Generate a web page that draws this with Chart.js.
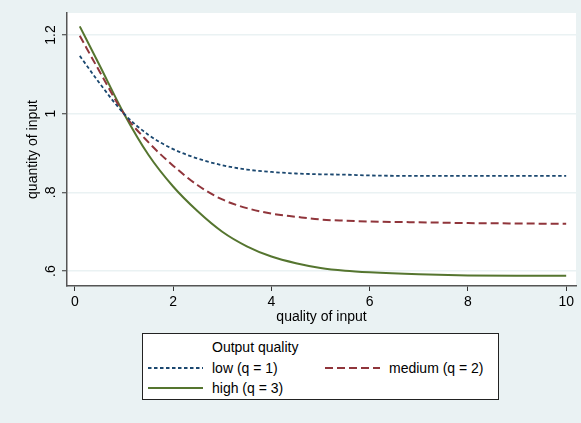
<!DOCTYPE html>
<html lang="en">
<head>
  <meta charset="UTF-8">
  <title>Quantity of input by quality of input</title>
  <script src="https://cdn.jsdelivr.net/npm/chart.js"></script>
  <style>
    html, body { margin: 0; padding: 0; background: #eaf2f3; }
    #wrap { position: relative; width: 581px; height: 423px; font-family: "Liberation Sans", Arial, sans-serif; }
    #legend { position: absolute; left: 142px; top: 333px; width: 355px; height: 65px;
              background: #fff; border: 1px solid #222; font-size: 14px; color: #000; }
    .item { position: absolute; height: 18px; line-height: 18px; white-space: nowrap; }
    .item svg { position: absolute; top: 0; }
  </style>
</head>
<body>
  <div id="wrap">
    <canvas id="chart" width="581" height="423"></canvas>
    <div id="legend"></div>
  </div>

  <script>
    // values
    const xValues = [0.1, 0.5, 1, 1.5, 2, 2.5, 3, 3.5, 4, 4.5, 5, 5.5, 6, 7, 8, 9, 10];
    const lowQ    = [1.147, 1.078, 1.0, 0.946, 0.910, 0.886, 0.869, 0.858, 0.852, 0.848, 0.846, 0.845, 0.843, 0.842, 0.842, 0.842, 0.842];
    const mediumQ = [1.198, 1.108, 1.0, 0.927, 0.868, 0.818, 0.782, 0.760, 0.746, 0.738, 0.731, 0.728, 0.726, 0.724, 0.722, 0.721, 0.720];
    const highQ   = [1.222, 1.124, 1.0, 0.895, 0.815, 0.752, 0.700, 0.663, 0.637, 0.620, 0.608, 0.601, 0.597, 0.592, 0.589, 0.588, 0.588];
    const xTicks = [0, 2, 4, 6, 8, 10];
    const yTicks = [0.6, 0.8, 1, 1.2];
    const seriesLabels = ['low (q = 1)', 'medium (q = 2)', 'high (q = 3)'];
    const legendTitle = 'Output quality';

    const colors = ['#1a476f', '#90353b', '#55752f'];
    const dashes = [[3.5, 2.5], [8, 4], []];
    const widths = [1.8, 2, 2];

    const toPoints = ys => xValues.map((x, i) => ({ x: x, y: ys[i] }));

    // white plot region, Stata style
    const plotBg = {
      id: 'plotBg',
      beforeDraw(chart) {
        const { ctx, chartArea: a } = chart;
        ctx.save();
        ctx.fillStyle = '#ffffff';
        ctx.fillRect(a.left, a.top, a.right - a.left, a.bottom - a.top);
        ctx.restore();
      }
    };

    const fmtY = v => v === 1 ? '1' : String(v).replace(/^0\./, '.');

    new Chart(document.getElementById('chart'), {
      type: 'line',
      data: {
        datasets: [lowQ, mediumQ, highQ].map((ys, i) => ({
          label: seriesLabels[i],
          data: toPoints(ys),
          borderColor: colors[i],
          borderDash: dashes[i],
          borderWidth: widths[i],
          pointRadius: 0,
          fill: false,
          cubicInterpolationMode: 'monotone'
        }))
      },
      options: {
        responsive: false,
        animation: false,
        devicePixelRatio: 1,
        layout: { padding: { left: 0, top: 13, right: 5, bottom: 92 } },
        plugins: { legend: { display: false }, tooltip: { enabled: false } },
        scales: {
          x: {
            type: 'linear',
            min: -0.16,
            max: 10.2,
            afterBuildTicks: s => { s.ticks = xTicks.map(v => ({ value: v })); },
            afterFit: s => { s.height = 45; },
            ticks: { color: '#000', padding: 3, font: { family: 'Liberation Sans', size: 14 }, callback: v => String(v) },
            grid: { drawOnChartArea: false, drawTicks: true, tickLength: 5, tickColor: '#333', tickWidth: 1 },
            border: { display: true, color: '#555', width: 1.5 },
            title: { display: true, text: 'quality of input', color: '#000',
                     font: { family: 'Liberation Sans', size: 14 }, padding: { top: 0, bottom: 5 } }
          },
          y: {
            type: 'linear',
            min: 0.562,
            max: 1.256,
            afterBuildTicks: s => { s.ticks = yTicks.map(v => ({ value: v })); },
            afterFit: s => { s.width = 67; },
            ticks: { color: '#000', padding: 1, minRotation: 90, maxRotation: 90, crossAlign: 'center',
                     font: { family: 'Liberation Sans', size: 14 }, callback: v => fmtY(v) },
            grid: { color: '#eaf2f3', lineWidth: 1.5, drawTicks: true, tickLength: 5, tickColor: '#333', tickWidth: 1 },
            border: { display: true, color: '#555', width: 1.5 },
            title: { display: true, text: 'quantity of input', color: '#000',
                     font: { family: 'Liberation Sans', size: 14 }, padding: { top: 25, bottom: 0 } }
          }
        }
      },
      plugins: [plotBg]
    });

    // legend box: title on top, two columns below
    const legend = document.getElementById('legend');
    const slots = [{ left: 5, top: 25 }, { left: 182, top: 25 }, { left: 5, top: 45 }];
    const addText = (text, left, top) => {
      const d = document.createElement('div');
      d.className = 'item';
      d.style.left = left + 'px';
      d.style.top = top + 'px';
      d.textContent = text;
      legend.appendChild(d);
      return d;
    };
    addText(legendTitle, 69, 4);
    seriesLabels.forEach((lab, i) => {
      const s = slots[i];
      const d = addText(lab, s.left + 64, s.top);
      const svg = document.createElementNS('http://www.w3.org/2000/svg', 'svg');
      svg.setAttribute('width', '56');
      svg.setAttribute('height', '18');
      svg.style.left = '-64px';
      const line = document.createElementNS('http://www.w3.org/2000/svg', 'line');
      line.setAttribute('x1', '0'); line.setAttribute('y1', '9');
      line.setAttribute('x2', '55'); line.setAttribute('y2', '9');
      line.setAttribute('stroke', colors[i]);
      line.setAttribute('stroke-width', String(widths[i]));
      if (dashes[i].length) line.setAttribute('stroke-dasharray', dashes[i].join(' '));
      svg.appendChild(line);
      d.appendChild(svg);
    });
  </script>
</body>
</html>
